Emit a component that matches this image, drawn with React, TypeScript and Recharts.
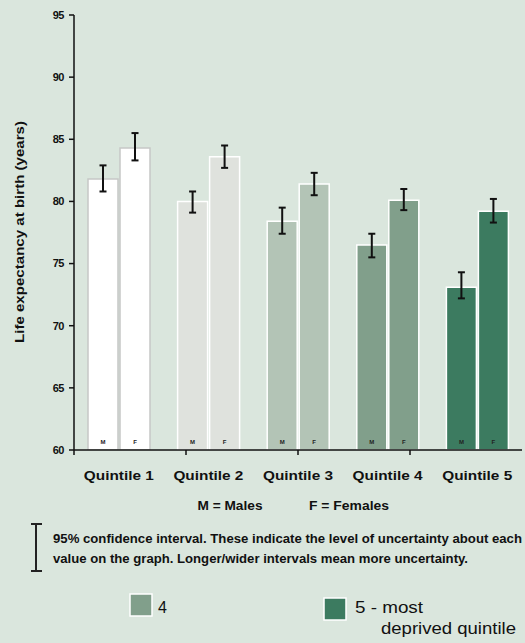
import React from 'react';
import { BarChart, Bar, XAxis, YAxis, ErrorBar, Cell, LabelList } from 'recharts';

const categories = ['Quintile 1', 'Quintile 2', 'Quintile 3', 'Quintile 4', 'Quintile 5'];
const males = [81.8, 80.0, 78.4, 76.5, 73.1];
const malesLow = [80.8, 79.1, 77.4, 75.5, 72.2];
const malesHigh = [82.9, 80.8, 79.5, 77.4, 74.3];
const females = [84.3, 83.6, 81.4, 80.1, 79.2];
const femalesLow = [83.3, 82.7, 80.5, 79.3, 78.3];
const femalesHigh = [85.5, 84.5, 82.3, 81.0, 80.2];
const yTicks = [60, 65, 70, 75, 80, 85, 90, 95];
const boundaryTicks = [0, 1, 2, 3, 4, 5];
const fills = ['#ffffff', '#dfe2dd', '#b3c4b6', '#819f8b', '#3c7b60'];
const strokes = ['#c6c8c6', '#ffffff', '#ffffff', '#ffffff', '#ffffff'];

const data = categories.map((name, i) => ({
  name,
  m: males[i],
  f: females[i],
  mErr: [+(males[i] - malesLow[i]).toFixed(2), +(malesHigh[i] - males[i]).toFixed(2)],
  fErr: [+(females[i] - femalesLow[i]).toFixed(2), +(femalesHigh[i] - females[i]).toFixed(2)],
}));

const FONT = 'Liberation Sans, Arial, sans-serif';

const makeInnerLabel = (letter: string) => (props: any) => {
  const { x, y, width, height } = props;
  return (
    <text
      x={x + width / 2}
      y={y + height - 6}
      textAnchor="middle"
      fontSize={6}
      fontWeight="bold"
      fill="#222"
      fontFamily={FONT}
    >
      {letter}
    </text>
  );
};

const CatTick = (props: any) => {
  const { x, y, payload } = props;
  return (
    <text
      x={x}
      y={y + 21}
      textAnchor="middle"
      fontSize={13}
      fontWeight="bold"
      fill="#111"
      fontFamily={FONT}
      textLength={70}
      lengthAdjust="spacingAndGlyphs"
    >
      {payload.value}
    </text>
  );
};

export default function App() {
  return (
    <div
      style={{
        position: 'absolute',
        left: 0,
        top: 0,
        width: 525,
        height: 643,
        background: '#dae6dd',
        overflow: 'hidden',
        fontFamily: FONT,
      }}
    >
      <div style={{ position: 'absolute', left: 0, top: 0 }}>
        <BarChart
          width={525}
          height={643}
          data={data}
          margin={{ top: 15, right: 3, left: 34, bottom: 163 }}
          barSize={30}
          barGap={2}
        >
          <XAxis
            xAxisId="a_grid"
            type="number"
            domain={[0, 5]}
            ticks={boundaryTicks}
            allowDataOverflow
            height={1}
            tickSize={5}
            tickFormatter={() => ''}
            axisLine={{ stroke: '#111', strokeWidth: 1.5 }}
            tickLine={{ stroke: '#111', strokeWidth: 1.5 }}
          />
          <XAxis
            xAxisId="b_cat"
            dataKey="name"
            height={29}
            axisLine={false}
            tickLine={false}
            tick={<CatTick />}
            interval={0}
          />
          <YAxis
            domain={[60, 95]}
            ticks={yTicks}
            allowDataOverflow
            width={40}
            tickSize={5}
            tickMargin={5}
            axisLine={{ stroke: '#111', strokeWidth: 1.5 }}
            tickLine={{ stroke: '#111', strokeWidth: 1.5 }}
            tick={{ fontSize: 11, fontWeight: 'bold', fill: '#111', fontFamily: FONT, letterSpacing: -0.5 }}
          />
          <Bar xAxisId="b_cat" dataKey="m" isAnimationActive={false} strokeWidth={1.5}>
            {data.map((d, i) => (
              <Cell key={d.name} fill={fills[i]} stroke={strokes[i]} />
            ))}
            <LabelList dataKey="m" content={makeInnerLabel('M')} />
            <ErrorBar dataKey="mErr" direction="y" width={3.5} stroke="#111" strokeWidth={2} />
          </Bar>
          <Bar xAxisId="b_cat" dataKey="f" isAnimationActive={false} strokeWidth={1.5}>
            {data.map((d, i) => (
              <Cell key={d.name} fill={fills[i]} stroke={strokes[i]} />
            ))}
            <LabelList dataKey="f" content={makeInnerLabel('F')} />
            <ErrorBar dataKey="fErr" direction="y" width={3.5} stroke="#111" strokeWidth={2} />
          </Bar>
        </BarChart>
      </div>
      <svg
        width={525}
        height={643}
        style={{ position: 'absolute', left: 0, top: 0, pointerEvents: 'none' }}
        fontFamily={FONT}
      >
        <text
          transform="translate(24,232) rotate(-90)"
          textAnchor="middle"
          fontSize={12}
          fontWeight="bold"
          fill="#111"
          textLength={222}
          lengthAdjust="spacingAndGlyphs"
        >
          Life expectancy at birth (years)
        </text>
        <text x={230} y={510} textAnchor="middle" fontSize={12} fontWeight="bold" fill="#111" textLength={65} lengthAdjust="spacingAndGlyphs">
          M = Males
        </text>
        <text x={349} y={510} textAnchor="middle" fontSize={12} fontWeight="bold" fill="#111" textLength={80} lengthAdjust="spacingAndGlyphs">
          F = Females
        </text>
        <g stroke="#222" strokeWidth={2}>
          <line x1={36} y1={524} x2={36} y2={571} />
          <line x1={31} y1={524} x2={42} y2={524} />
          <line x1={31} y1={571} x2={42} y2={571} />
        </g>
        <text x={53} y={543} fontSize={12} fontWeight="bold" fill="#111" textLength={469} lengthAdjust="spacingAndGlyphs">
          95% confidence interval. These indicate the level of uncertainty about each
        </text>
        <text x={53} y={563} fontSize={12} fontWeight="bold" fill="#111" textLength={415} lengthAdjust="spacingAndGlyphs">
          value on the graph. Longer/wider intervals mean more uncertainty.
        </text>
        <rect x={130} y={594} width={22} height={22} fill="#819f8b" stroke="#ffffff" strokeWidth={1.5} />
        <text x={158} y={613} fontSize={16} fill="#111">4</text>
        <rect x={324} y={598} width={22} height={22} fill="#3c7b60" stroke="#ffffff" strokeWidth={1.5} />
        <text x={355} y={613} fontSize={16} fill="#111" textLength={68} lengthAdjust="spacingAndGlyphs">5 - most</text>
        <text x={381} y={634} fontSize={16} fill="#111" textLength={135} lengthAdjust="spacingAndGlyphs">deprived quintile</text>
      </svg>
    </div>
  );
}
